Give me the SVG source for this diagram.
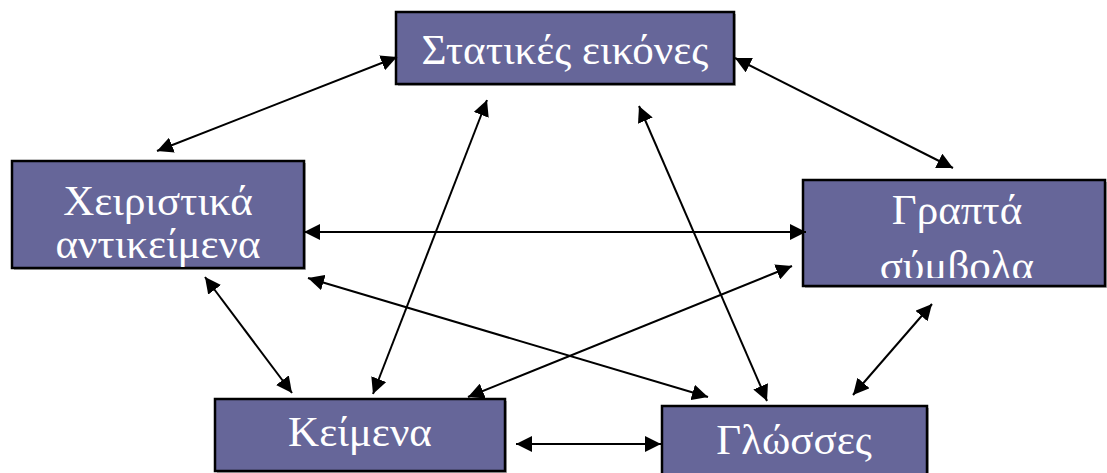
<svg xmlns="http://www.w3.org/2000/svg" width="1107" height="473" viewBox="0 0 1107 473">
  <style>
    .box { fill: #666699; stroke: #000; stroke-width: 2.5; }
    .shadow { fill: #b0b0b0; }
    .label { fill: #ffffff; font-family: "Liberation Serif", "DejaVu Serif", serif; font-size: 43px; text-anchor: middle; }
    .link { stroke: #000; stroke-width: 2; fill: none; marker-start: url(#head); marker-end: url(#head); }
  </style>
  <defs>
    <marker id="head" viewBox="0 0 16 16" refX="16" refY="8" markerWidth="16" markerHeight="16" markerUnits="userSpaceOnUse" orient="auto-start-reverse">
      <path d="M0,0 L16,8 L0,16 Z" fill="#000"/>
    </marker>
    <clipPath id="clip-grapta">
      <rect x="803" y="180" width="302" height="98"/>
    </clipPath>
  </defs>

  <rect width="1107" height="473" fill="#ffffff"/>

  <g id="node-statikes">
    <rect class="shadow" x="398" y="14" width="338" height="72"/>
    <rect class="box" x="396" y="12" width="338" height="72"/>
    <text class="label" x="565" y="64">Στατικές εικόνες</text>
  </g>

  <g id="node-cheiristika">
    <rect class="shadow" x="14" y="163" width="292" height="107"/>
    <rect class="box" x="12" y="161" width="292" height="107"/>
    <text class="label" x="158" y="215">Χειριστικά</text>
    <text class="label" x="158" y="258">αντικείμενα</text>
  </g>

  <g id="node-grapta">
    <rect class="shadow" x="805" y="182" width="302" height="106"/>
    <rect class="box" x="803" y="180" width="302" height="106"/>
    <g clip-path="url(#clip-grapta)">
      <text class="label" x="957" y="224">Γραπτά</text>
      <text class="label" x="957" y="280">σύμβολα</text>
    </g>
  </g>

  <g id="node-keimena">
    <rect class="shadow" x="217" y="401" width="290" height="72"/>
    <rect class="box" x="215" y="399" width="290" height="72"/>
    <text class="label" x="360" y="446">Κείμενα</text>
  </g>

  <g id="node-glosses">
    <rect class="shadow" x="664" y="408" width="265" height="80"/>
    <rect class="box" x="662" y="406" width="265" height="80"/>
    <text class="label" x="794" y="454">Γλώσσες</text>
  </g>

  <g id="connectors">
    <line class="link" x1="157" y1="151" x2="397" y2="57"/>
    <line class="link" x1="735" y1="58" x2="953" y2="168"/>
    <line class="link" x1="304" y1="232" x2="806" y2="232"/>
    <line class="link" x1="205" y1="277" x2="292" y2="393"/>
    <line class="link" x1="308" y1="278" x2="708" y2="397"/>
    <line class="link" x1="468" y1="397" x2="792" y2="266"/>
    <line class="link" x1="639" y1="106" x2="767" y2="401"/>
    <line class="link" x1="487" y1="100" x2="373" y2="394"/>
    <line class="link" x1="516" y1="444" x2="661" y2="444"/>
    <line class="link" x1="932" y1="304" x2="853" y2="395"/>
  </g>
</svg>
